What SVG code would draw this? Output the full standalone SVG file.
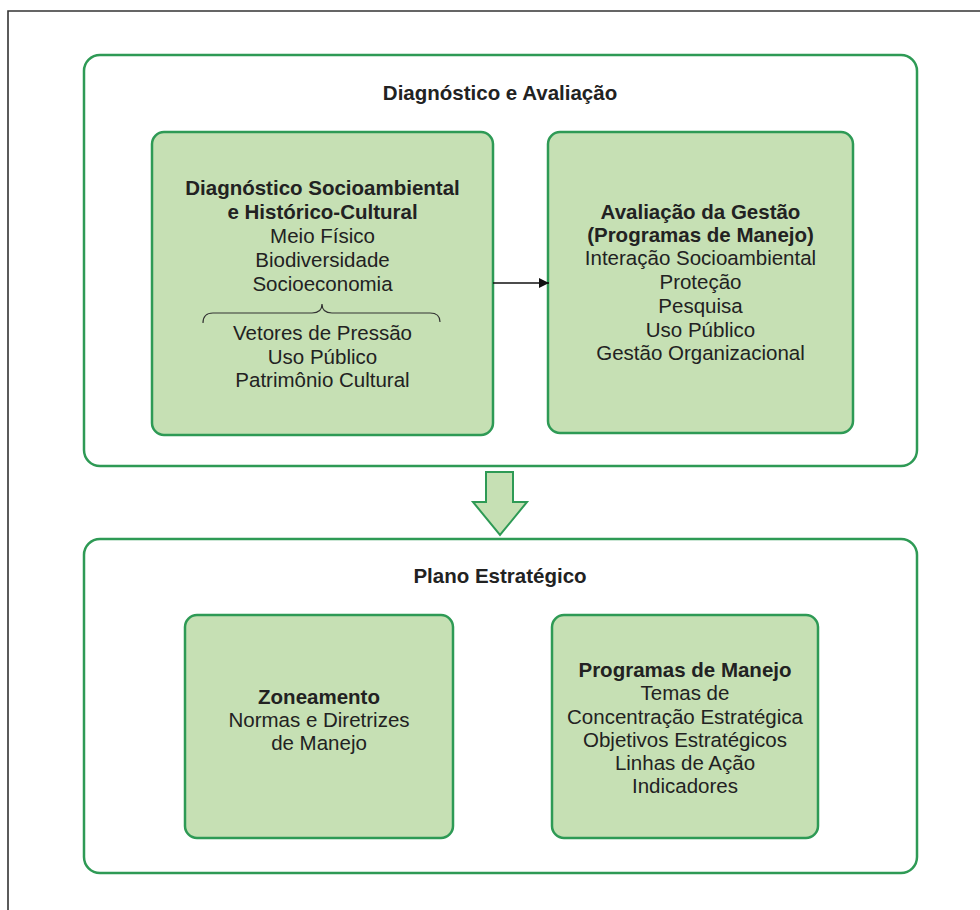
<svg xmlns="http://www.w3.org/2000/svg" width="980" height="910" viewBox="0 0 980 910">
<style>
.frame{fill:#ffffff;stroke:#2e9a55;stroke-width:2.5}
.box{fill:#c6e0b4;stroke:#2e9a55;stroke-width:2.5}
.t{font-family:"Liberation Sans",Arial,sans-serif;font-size:20.5px;fill:#222;text-anchor:middle}
.b{font-weight:bold}
.conn{stroke:#111;stroke-width:1.3;fill:none}
</style>
<defs>
<marker id="ah" viewBox="0 0 10 10" refX="10" refY="5" markerWidth="10" markerHeight="10" markerUnits="userSpaceOnUse" orient="auto">
<path d="M0,0 L10,5 L0,10 z" fill="#111"/>
</marker>
</defs>
<rect x="0" y="0" width="980" height="910" fill="#ffffff"/>
<path d="M8,910 L8,11 L980,11" fill="none" stroke="#333" stroke-width="1.6"/>

<g id="diagnostico-avaliacao">
<rect class="frame" x="84" y="55" width="833" height="411" rx="16"/>
<text class="t b" x="500" y="100">Diagnóstico e Avaliação</text>
</g>

<g id="diagnostico-socioambiental">
<rect class="box" x="152" y="132" width="341" height="303" rx="12"/>
<text class="t b" x="322.5" y="195">Diagnóstico Socioambiental</text>
<text class="t b" x="322.5" y="219">e Histórico-Cultural</text>
<text class="t" x="322.5" y="243">Meio Físico</text>
<text class="t" x="322.5" y="267">Biodiversidade</text>
<text class="t" x="322.5" y="291">Socioeconomia</text>
<path d="M203,323 Q203,313 213,313 L312,313 Q322,313 322,304 Q322,313 332,313 L430,313 Q440,313 440,322" fill="none" stroke="#333" stroke-width="1.2"/>
<text class="t" x="322.5" y="340">Vetores de Pressão</text>
<text class="t" x="322.5" y="364">Uso Público</text>
<text class="t" x="322.5" y="387">Patrimônio Cultural</text>
</g>

<g id="avaliacao-gestao">
<rect class="box" x="548" y="132" width="305" height="301" rx="12"/>
<text class="t b" x="700.5" y="219">Avaliação da Gestão</text>
<text class="t b" x="700.5" y="242">(Programas de Manejo)</text>
<text class="t" x="700.5" y="265">Interação Socioambiental</text>
<text class="t" x="700.5" y="289">Proteção</text>
<text class="t" x="700.5" y="313">Pesquisa</text>
<text class="t" x="700.5" y="337">Uso Público</text>
<text class="t" x="700.5" y="360">Gestão Organizacional</text>
</g>

<g id="plano-estrategico">
<rect class="frame" x="84" y="539" width="833" height="334" rx="16"/>
<text class="t b" x="500" y="583">Plano Estratégico</text>
</g>

<g id="zoneamento">
<rect class="box" x="185" y="615" width="268" height="223" rx="12"/>
<text class="t b" x="319" y="704">Zoneamento</text>
<text class="t" x="319" y="727">Normas e Diretrizes</text>
<text class="t" x="319" y="750">de Manejo</text>
</g>

<g id="programas-manejo">
<rect class="box" x="552" y="615" width="266" height="223" rx="12"/>
<text class="t b" x="685" y="677">Programas de Manejo</text>
<text class="t" x="685" y="700">Temas de</text>
<text class="t" x="685" y="724">Concentração Estratégica</text>
<text class="t" x="685" y="747">Objetivos Estratégicos</text>
<text class="t" x="685" y="770">Linhas de Ação</text>
<text class="t" x="685" y="793">Indicadores</text>
</g>

<g id="connectors">
<line class="conn" x1="493" y1="283" x2="549" y2="283" marker-end="url(#ah)"/>
<polygon points="486,472 513,472 513,502 527,502 500,535 473,502 486,502" fill="#c6e0b4" stroke="#2e9a55" stroke-width="2" stroke-linejoin="miter"/>
</g>
</svg>
